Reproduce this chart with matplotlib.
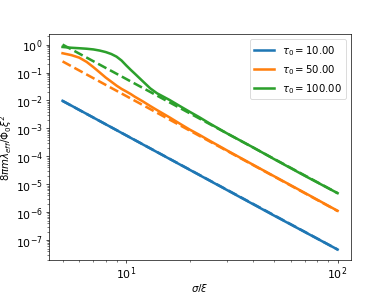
import matplotlib
matplotlib.use("Agg")
import matplotlib.pyplot as plt
from matplotlib.ticker import NullFormatter

# Data
x_solid = [5, 5.5, 6, 6.5, 7, 7.5, 8, 8.5, 9, 9.5, 10, 10.5, 11, 12, 13, 14, 16, 18, 20, 22, 25, 30, 40, 50, 70, 100]

blue_x = [5, 10, 20, 50, 100]
blue_solid = [0.0097, 5.6e-4, 3.27e-5, 7.6e-7, 4.6e-8]

orange_solid = [0.49, 0.42, 0.34, 0.24, 0.155, 0.10, 0.066, 0.047, 0.034, 0.026, 0.021, 0.017,
                0.0135, 0.0092, 0.0063, 0.0045, 0.0025, 0.00145, 9.0e-4, 6.1e-4, 3.5e-4,
                1.62e-4, 4.9e-5, 1.95e-5, 4.9e-6, 1.12e-6]

green_solid = [0.82, 0.77, 0.74, 0.71, 0.67, 0.61, 0.54, 0.46, 0.37, 0.27, 0.18, 0.125, 0.090,
               0.048, 0.027, 0.018, 0.0105, 0.0062, 0.0039, 0.0026, 0.00145, 6.6e-4,
               2.05e-4, 8.0e-5, 2.0e-5, 4.8e-6]

x_dashed = [5, 100]
blue_dashed = [0.0096, 4.6e-8]
orange_dashed = [0.25, 1.1e-6]
green_dashed = [1.0, 4.8e-6]

labels = [r"$\tau_0 = 10.00$", r"$\tau_0 = 50.00$", r"$\tau_0 = 100.00$"]
colors = ["#1f77b4", "#ff7f0e", "#2ca02c"]

plt.rcParams["font.size"] = 12

fig, ax = plt.subplots(figsize=(6.4, 4.8))

ax.plot(blue_x, blue_solid, color=colors[0], lw=3, label=labels[0])
ax.plot(x_dashed, blue_dashed, color=colors[0], lw=3, ls="--")
ax.plot(x_solid, orange_solid, color=colors[1], lw=3, label=labels[1])
ax.plot(x_dashed, orange_dashed, color=colors[1], lw=3, ls="--")
ax.plot(x_solid, green_solid, color=colors[2], lw=3, label=labels[2])
ax.plot(x_dashed, green_dashed, color=colors[2], lw=3, ls="--")

ax.set_xscale("log")
ax.set_yscale("log")
ax.xaxis.set_minor_formatter(NullFormatter())
ax.tick_params(axis="both", labelsize=13)
ax.tick_params(axis="x", pad=2.5)
ax.set_xlabel(r"$\sigma/\xi$", labelpad=0)
ax.set_ylabel(r"$8\pi m\lambda_{eff}/\Phi_0\xi^2$", labelpad=2)
ax.legend(loc="upper right")

fig.savefig("out.png", dpi=61)
